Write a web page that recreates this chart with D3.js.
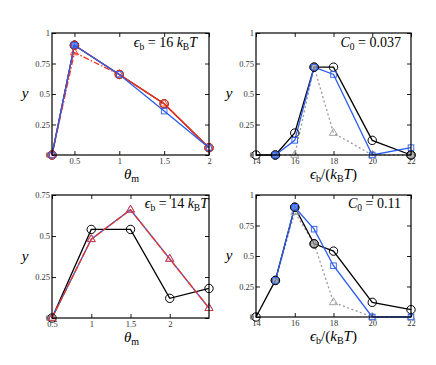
<!DOCTYPE html>
<html>
<head>
<meta charset="utf-8">
<script src="https://cdn.jsdelivr.net/npm/d3@7"></script>
<style>
body { margin: 0; background: #fff; }
svg { display: block; }
svg text { font-family: "Liberation Serif", "DejaVu Serif", serif; }
</style>
</head>
<body>
<svg width="436" height="365"></svg>
<script>
const svg = d3.select('svg');
const RED = '#f0321e', BLUE = '#2a5cf0', GRAY = '#999';

// ---- data ----
const thetaTop = [0.25, 0.5, 1, 1.5, 2];
const tlBlack = [0, 0.9, 0.66, 0.42, 0.06];
const tlRedCirc = [0, 0.9, 0.66, 0.42, 0.06];
const tlRedTri = [0, 0.84, 0.66, 0.42, 0.06];
const tlBlue = [0, 0.9, 0.66, 0.36, 0.06];

const thetaBot = [0.5, 1, 1.5, 2, 2.5];
const blBlack = [0, 0.54, 0.54, 0.12, 0.18];
const blRed = [0, 0.48, 0.66, 0.36, 0.06];
const blBlue = [0, 0.48, 0.66, 0.36, 0.06];

const eps = [14, 15, 16, 17, 18, 20, 22];
const trBlack = [0, 0, 0.18, 0.72, 0.72, 0.12, 0];
const trBlue = [null, 0, 0.12, 0.72, 0.66, 0, 0.06];
const trGray = [null, 0, 0, 0.72, 0.18, 0, 0];

const brBlack = [0, 0.3, 0.9, 0.6, 0.54, 0.12, 0.06];
const brBlue = [null, 0.3, 0.9, 0.72, 0.42, 0, 0];
const brGray = [null, 0.3, 0.86, 0.6, 0.12, 0, 0];

const thetaTicksTop = [0.5, 1, 1.5, 2];
const thetaTicksBot = [0.5, 1, 1.5, 2];
const epsTicks = [14, 16, 18, 20, 22];
const yTicks1 = [0, 0.25, 0.5, 0.75, 1];
const yTicks075 = [0, 0.25, 0.5, 0.75];

const pair = (xs, ys) => xs.map((x, i) => [x, ys[i]]).filter(d => d[1] != null);

const panels = [
  { box: [52, 209, 33, 155], xd: [0.25, 2], yd: [0, 1], xt: thetaTicksTop, yt: yTicks1, xlab: 'theta',
    note: { kind: 'eps', val: '16', x: 197, y: 47 },
    series: [
      { pts: pair(thetaTop, tlBlack), color: '#000', mark: 'circle' },
      { pts: pair(thetaTop, tlRedCirc), color: RED, mark: 'circle' },
      { pts: pair(thetaTop, tlRedTri), color: RED, mark: 'tri', dash: '6,2,1.5,2' },
      { pts: pair(thetaTop, tlBlue), color: BLUE, mark: 'square' }
    ],
    filled: [[0.5, 0.9, BLUE]] },
  { box: [256, 411, 33, 155], xd: [14, 22], yd: [0, 1], xt: epsTicks, yt: yTicks1, xlab: 'eps',
    note: { kind: 'C', val: '0.037', x: 401, y: 47 },
    series: [
      { pts: pair(eps, trGray), color: GRAY, mark: 'tri', dash: '2,2.5' },
      { pts: pair(eps, trBlack), color: '#000', mark: 'circle' },
      { pts: pair(eps, trBlue), color: BLUE, mark: 'square' }
    ],
    filled: [[15, 0, BLUE], [17, 0.72, GRAY], [22, 0, GRAY]] },
  { box: [52, 209, 195, 318], xd: [0.5, 2.5], yd: [0, 0.75], xt: thetaTicksBot, yt: yTicks075, xlab: 'theta',
    note: { kind: 'eps', val: '14', x: 208, y: 208 },
    series: [
      { pts: pair(thetaBot, blBlack), color: '#000', mark: 'circle' },
      { pts: pair(thetaBot, blBlue), color: BLUE, mark: 'tri' },
      { pts: pair(thetaBot, blRed), color: RED, mark: 'tri', dash: '7,1.5' }
    ],
    filled: [] },
  { box: [256, 411, 195, 317], xd: [14, 22], yd: [0, 1], xt: epsTicks, yt: yTicks1, xlab: 'eps',
    note: { kind: 'C', val: '0.11', x: 401, y: 208 },
    series: [
      { pts: pair(eps, brGray), color: GRAY, mark: 'tri', dash: '2,2.5' },
      { pts: pair(eps, brBlack), color: '#000', mark: 'circle' },
      { pts: pair(eps, brBlue), color: BLUE, mark: 'square' }
    ],
    filled: [[15, 0.3, GRAY], [16, 0.9, BLUE], [17, 0.6, GRAY]] }
];

panels.forEach(p => {
  const [x0, x1, y0, y1] = p.box;
  const x = d3.scaleLinear().domain(p.xd).range([x0, x1]);
  const y = d3.scaleLinear().domain(p.yd).range([y1, y0]);
  const g = svg.append('g');

  // axes with inward ticks on all four sides
  const ax = (gen, tr) => {
    const a = g.append('g').attr('transform', tr).call(gen);
    a.select('.domain').remove();
    a.attr('font-family', null);
    a.selectAll('text').attr('font-size', 8.5).attr('fill', '#333');
    a.selectAll('line').attr('stroke', '#000').attr('stroke-width', 0.9);
    return a;
  };
  ax(d3.axisBottom(x).tickValues(p.xt).tickSizeInner(-4).tickSizeOuter(0).tickPadding(3).tickFormat(d => String(d)), `translate(0,${y1})`);
  ax(d3.axisTop(x).tickValues(p.xt).tickSizeInner(-4).tickSizeOuter(0).tickFormat(''), `translate(0,${y0})`);
  ax(d3.axisLeft(y).tickValues(p.yt).tickSizeInner(-4).tickSizeOuter(0).tickPadding(2).tickFormat(d => String(d)), `translate(${x0},0)`);
  ax(d3.axisRight(y).tickValues(p.yt).tickSizeInner(-4).tickSizeOuter(0).tickFormat(''), `translate(${x1},0)`);

  const line = d3.line().x(d => x(d[0])).y(d => y(d[1]));

  p.series.forEach(s => {
    g.append('path').attr('d', line(s.pts)).attr('fill', 'none')
      .attr('stroke', s.color).attr('stroke-width', 1.3)
      .attr('stroke-dasharray', s.dash || null);
  });
  p.filled.forEach(f => {
    g.append('circle').attr('cx', x(f[0])).attr('cy', y(f[1])).attr('r', 4.2)
      .attr('fill', f[2]).attr('fill-opacity', 0.7).attr('stroke', '#222').attr('stroke-width', 1);
  });
  p.series.forEach(s => {
    const m = g.selectAll(null).data(s.pts).enter();
    if (s.mark === 'circle') {
      m.append('circle').attr('cx', d => x(d[0])).attr('cy', d => y(d[1])).attr('r', 4.2)
        .attr('fill', 'none').attr('stroke', s.color).attr('stroke-width', 1);
    } else if (s.mark === 'square') {
      m.append('rect').attr('x', d => x(d[0]) - 2.8).attr('y', d => y(d[1]) - 2.8)
        .attr('width', 5.6).attr('height', 5.6)
        .attr('fill', 'none').attr('stroke', s.color).attr('stroke-width', 0.9);
    } else {
      m.append('path').attr('transform', d => `translate(${x(d[0])},${y(d[1])})`)
        .attr('d', d3.symbol(d3.symbolTriangle, 28))
        .attr('fill', 'none').attr('stroke', s.color).attr('stroke-width', 0.9);
    }
  });

  // frame
  g.append('rect').attr('x', x0).attr('y', y0).attr('width', x1 - x0).attr('height', y1 - y0)
    .attr('fill', 'none').attr('stroke', '#000').attr('stroke-width', 1.2);

  // y label
  g.append('text').attr('x', x0 - 27).attr('y', (y0 + y1) / 2 + 4)
    .attr('font-style', 'italic').attr('font-size', 15)
    .attr('text-anchor', 'middle').text('y');

  // x label
  const xl = g.append('text').attr('font-size', 15).attr('text-anchor', 'middle')
    .attr('x', (x0 + x1) / 2 + (p.xlab === 'theta' ? 1 : 0)).attr('y', y1 + 24);
  if (p.xlab === 'theta') {
    xl.append('tspan').attr('font-style', 'italic').text('θ');
    xl.append('tspan').attr('font-size', 10).attr('dy', 3).text('m');
  } else {
    xl.append('tspan').attr('font-style', 'italic').text('ϵ');
    xl.append('tspan').attr('font-size', 10).attr('dy', 3).text('b');
    xl.append('tspan').attr('dy', -3).text('/(');
    xl.append('tspan').attr('font-style', 'italic').text('k');
    xl.append('tspan').attr('font-size', 10).attr('dy', 3).text('B');
    xl.append('tspan').attr('font-style', 'italic').attr('dy', -3).text('T');
    xl.append('tspan').text(')');
  }

  // annotation
  const n = p.note;
  const t = g.append('text').attr('x', n.x).attr('y', n.y).attr('text-anchor', 'end')
    .attr('font-size', 14);
  if (n.kind === 'eps') {
    t.append('tspan').attr('font-style', 'italic').text('ϵ');
    t.append('tspan').attr('font-size', 9.5).attr('dy', 3).text('b');
    t.append('tspan').attr('dy', -3).text(' = ' + n.val + ' ');
    t.append('tspan').attr('font-style', 'italic').text('k');
    t.append('tspan').attr('font-size', 9.5).attr('dy', 3).text('B');
    t.append('tspan').attr('font-style', 'italic').attr('dy', -3).text('T');
  } else {
    t.append('tspan').attr('font-style', 'italic').text('C');
    t.append('tspan').attr('font-size', 9.5).attr('dy', 3).text('0');
    t.append('tspan').attr('dy', -3).text(' = ' + n.val);
  }
});
</script>
</body>
</html>
